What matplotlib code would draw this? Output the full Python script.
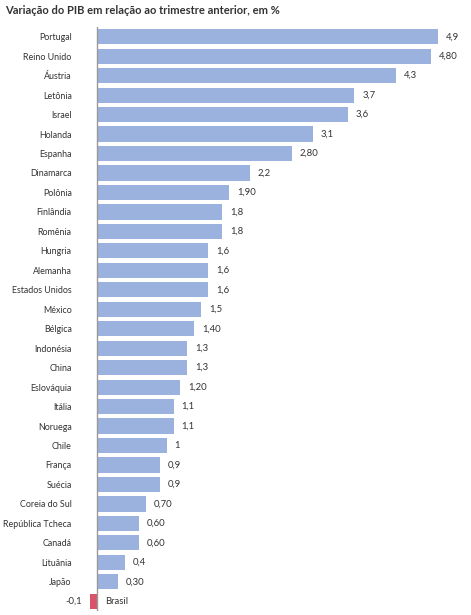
import matplotlib.pyplot as plt

# data
countries = ['Portugal', 'Reino Unido', 'Áustria', 'Letônia', 'Israel', 'Holanda', 'Espanha',
             'Dinamarca', 'Polônia', 'Finlândia', 'Romênia', 'Hungria', 'Alemanha',
             'Estados Unidos', 'México', 'Bélgica', 'Indonésia', 'China', 'Eslováquia',
             'Itália', 'Noruega', 'Chile', 'França', 'Suécia', 'Coreia do Sul',
             'República Tcheca', 'Canadá', 'Lituânia', 'Japão', 'Brasil']
values = [4.9, 4.8, 4.3, 3.7, 3.6, 3.1, 2.8, 2.2, 1.9, 1.8, 1.8, 1.6, 1.6, 1.6, 1.5, 1.4,
          1.3, 1.3, 1.2, 1.1, 1.1, 1.0, 0.9, 0.9, 0.7, 0.6, 0.6, 0.4, 0.3, -0.1]
value_labels = ['4,9', '4,80', '4,3', '3,7', '3,6', '3,1', '2,80', '2,2', '1,90', '1,8', '1,8',
                '1,6', '1,6', '1,6', '1,5', '1,40', '1,3', '1,3', '1,20', '1,1', '1,1', '1',
                '0,9', '0,9', '0,70', '0,60', '0,60', '0,4', '0,30', '-0,1']

plt.rcParams['font.family'] = ['Lato', 'DejaVu Sans']

blue = '#9bb1de'
red = '#d9546a'
text_col = '#333333'
fs = 6.4

W, H = 471, 615
fig = plt.figure(figsize=(W / 100, H / 100), dpi=100)
# axes placed in pixel terms: left 80px, right 471px, top 27px, bottom 611px
ax = fig.add_axes([80 / W, 1 - 611 / H, 391 / W, 584 / H])

ypos = list(range(len(countries)))
colors = [red if v < 0 else blue for v in values]
ax.barh(ypos, values, height=0.78, color=colors, zorder=2)
ax.set_xlim(-0.244, 5.374)
ax.set_ylim(len(countries) - 0.5, -0.5)

ax.axvline(0, color='#999999', linewidth=1, zorder=3)

for y, v, lab in zip(ypos, values, value_labels):
    if v >= 0:
        ax.text(v + 0.11, y, lab, ha='left', va='center', fontsize=fs + 0.4, color=text_col)
    else:
        ax.text(v - 0.11, y, lab, ha='right', va='center', fontsize=fs + 0.4, color=text_col)
        ax.text(0.11, y, countries[y], ha='left', va='center', fontsize=fs + 0.4, color=text_col)

ax.set_yticks(ypos)
ax.set_yticklabels([c if v >= 0 else '' for c, v in zip(countries, values)],
                   fontsize=fs, color=text_col)
ax.tick_params(axis='y', length=0, pad=6)
ax.set_xticks([])
for s in ax.spines.values():
    s.set_visible(False)

fig.text(5 / W, 1 - 11 / H, 'Variação do PIB em relação ao trimestre anterior, em %',
         ha='left', va='center', fontsize=8, fontweight='bold', color=text_col)

fig.savefig('out.png', dpi=100)
